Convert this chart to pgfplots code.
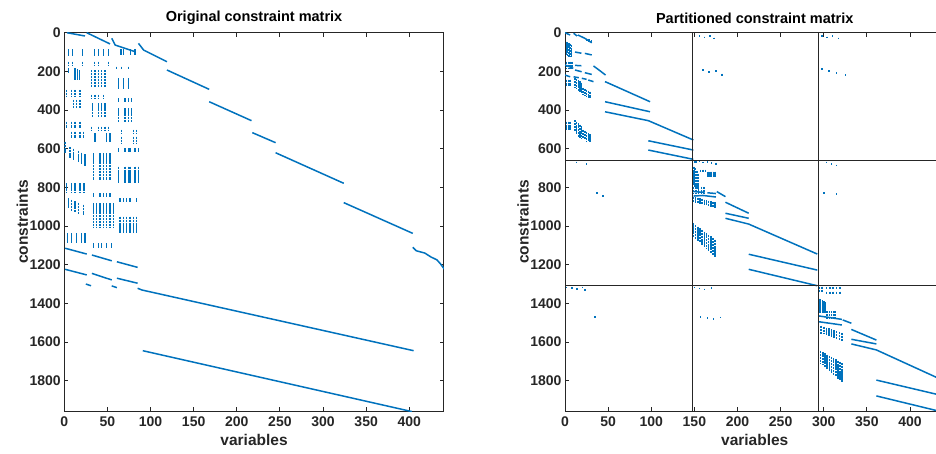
\documentclass[border=0pt]{standalone}
\usepackage{fontspec}
\setmainfont{Liberation Sans}
\usepackage{pgfplots}
\pgfplotsset{compat=1.18}
\definecolor{mblue}{RGB}{0,114,189}
\definecolor{axgray}{RGB}{38,38,38}

\pgfplotsset{
  spyax/.style={
    scale only axis, width=379.5pt, height=378.3pt,
    xmin=0, xmax=440, ymin=0, ymax=1957, y dir=reverse,
    xtick={0,50,...,400}, ytick={0,200,...,1800},
    tick align=inside, major tick length=4pt,
    axis line style={axgray, line width=0.9pt},
    tick style={axgray, line width=0.9pt},
    tick label style={font=\fontsize{14}{14}\selectfont\bfseries, text=axgray},
    xticklabel style={yshift=-2pt},
    every axis x label/.style={at={(axis description cs:0.5,-0.0767)}, anchor=center},
    every axis y label/.style={at={(axis description cs:-0.1105,0.5)}, rotate=90, anchor=center},
    label style={font=\fontsize{15.5}{15.5}\selectfont\bfseries, text=axgray},
    every axis title/.style={at={(axis description cs:0.5,1)}, anchor=center, yshift=14.7pt,
      font=\fontsize{14.5}{14.5}\selectfont\bfseries},
    /pgf/number format/assume math mode=true,
    /pgf/number format/set thousands separator={},
    xlabel={variables}, ylabel={constraints},
    unbounded coords=jump,
  },
  seg/.style={mblue, line width=1.5pt, no markers},
  bars/.style={mblue, only marks, mark=*, mark size=0pt,
    mark options={draw=none, fill=none},
    error bars/.cd, y dir=plus, y explicit, error mark=none,
    error bar style={mblue, line width=1.5pt, dash pattern=on 2.4pt off 0.5pt}},
  part/.style={black!85, line width=0.9pt, no markers},
}

\begin{document}
\begin{tikzpicture}
% ---------------- original matrix ----------------
\begin{axis}[spyax, at={(0pt,0pt)}, anchor=south west,
  title={Original constraint matrix}]
\addplot[seg] table {
x y
3 0
24 17
nan nan
26 0
53 58
nan nan
55 29
59 64
82 98
nan nan
86 55
92 90
119 150
nan nan
119 193
168 293
nan nan
168 357
217 455
nan nan
218 517
245 569
nan nan
245 621
324 779
nan nan
324 879
404 1038
nan nan
404 1110
408 1128
418 1140
425 1160
432 1175
436 1195
441 1225
nan nan
1 1115
26 1145
nan nan
32 1150
55 1180
nan nan
61 1185
85 1214
nan nan
1 1224
26 1253
nan nan
32 1245
55 1279
nan nan
61 1270
85 1296
nan nan
25 1300
31 1309
nan nan
55 1310
61 1319
nan nan
85 1322
90 1331
405 1645
nan nan
91 1645
403 1960
};
\addplot[bars] table[x=c, y=r, y error=h] {
c r h
4.7 86 35
9.7 86 35
21.3 86 35
34.8 86 35
39.5 86 35
45.3 86 35
51 86 35
65.7 86 30
68.4 86 30
77 86 30
82 86 30
4.7 150 17
9.7 150 17
21.3 150 17
34.8 150 17
39.5 150 17
51 150 17
60.6 176 10
66.5 176 10
74.2 176 10
4.7 185 25
12.4 185 60
15.1 190 55
17.4 195 50
31.7 193 86
35.6 193 86
39.5 193 86
43.3 193 86
47.2 193 86
62.6 236 60
68.4 236 60
74.2 236 60
2.7 296 35
8.5 296 35
12.4 296 35
18.2 296 35
31.7 322 18
35.6 322 18
39.5 322 18
45.3 322 18
62.6 340 17
70.4 340 17
74.2 340 17
78.1 340 17
10.5 348 43
14.3 348 43
18.2 348 43
32.9 365 69
39.5 365 69
43.3 365 69
47.2 365 69
62.6 391 69
70.4 391 69
74.2 391 69
78.1 391 69
2.7 460 35
8.5 460 35
12.4 460 35
18.2 460 35
31.7 486 17
39.5 486 17
43.3 486 17
47.2 486 17
51 486 17
66.5 503 18
80 503 18
83.9 503 18
8.5 512 34
12.4 512 34
18.2 512 34
22.1 512 34
35.6 521 43
49.1 521 43
53 521 43
66.5 538 34
80 538 34
83.9 538 34
0.8 564 56
6.6 590 60
10.5 600 60
16.3 610 60
20.1 620 60
24 630 60
33.7 624 138
41.4 624 138
45.3 624 138
49.1 624 138
53 624 138
62.6 598 17
70.4 598 17
74.2 598 17
76.2 598 17
82 598 17
85.8 598 17
62.6 693 86
70.4 693 86
74.2 693 86
76.2 693 86
82 693 86
85.8 693 86
2.7 779 52
8.5 779 52
12.4 779 52
18.2 779 52
22.8 779 52
33.7 831 17
41.4 831 17
45.3 831 17
49.1 831 17
53 831 17
64.6 857 17
68.4 857 17
72.3 857 17
76.2 857 17
83.9 857 17
4.7 857 50
8.5 865 55
12.4 872 60
16.3 880 60
22.1 890 55
33.7 883 121
37.6 883 121
41.4 883 121
45.3 883 121
49.1 883 121
53 883 121
56.8 883 121
64.6 952 86
68.4 952 86
72.3 952 86
76.2 952 86
80 952 86
84 952 86
3.5 1038 52
8.5 1038 52
14.3 1038 52
20.1 1038 52
24 1038 52
33.7 1090 25
39.5 1090 25
43.3 1090 25
49.1 1090 25
55 1090 25
};
\end{axis}

% ---------------- partitioned matrix ----------------
\begin{axis}[spyax, at={(500.7pt,0pt)}, anchor=south west,
  title={Partitioned constraint matrix}]
\addplot[seg] table {
x y
0 0
6 12
nan nan
10 3
14 17
nan nan
15 12
23 29
31 52
nan nan
0 167
9.6 184
nan nan
11.6 193
19.3 202
nan nan
23 207
31 216
nan nan
33 172
40 195
47 219
nan nan
0 219
6 228
nan nan
10 228
16 233
nan nan
19.5 236
25 241
nan nan
27 245
33 253
nan nan
46.4 253
98.6 357
nan nan
46.4 357
98.6 409
nan nan
46.4 409
96.6 455
148.8 555
nan nan
96.6 559
148.8 607
nan nan
96.6 607
148.8 655
nan nan
11.6 100
19 106
nan nan
23 107
31 115
nan nan
11.6 169
19 171
nan nan
176 822
181 835
186 848
nan nan
149 822
162 826
nan nan
165 828
175 832
nan nan
149 845
160 842
175 850
nan nan
186 877
213 934
nan nan
186 934
213 960
nan nan
186 960
213 990
292.5 1145
nan nan
213 1146
292.5 1228
nan nan
213 1224
292.5 1309
nan nan
294 1465
321 1483
nan nan
294 1495
321 1512
nan nan
322 1486
332 1503
nan nan
332 1535
361 1590
nan nan
332 1586
361 1610
nan nan
332 1610
361 1641
440 1802
nan nan
361 1797
440 1880
nan nan
361 1879
433 1957
};
\addplot[bars] table[x=c, y=r, y error=h] {
c r h
1.5 46 70
3 50 70
4.5 54 70
6 58 66
7.5 62 62
25 30 15
28 35 15
31 40 12
2 150 35
4 150 35
6 150 35
8 150 35
2 243 34
4 243 34
6 243 34
11.6 234 50
13.5 240 52
15.5 246 55
17.5 252 57
19.3 258 53
21 285 35
23 290 37
25 295 40
27 300 37
29 305 32
2 460 43
4 460 43
6 460 43
11.6 452 60
13.5 460 65
15.5 468 70
17.5 476 68
19.3 484 62
21 503 40
23 508 45
25 514 48
27 520 44
29 526 38
150 662 10
152 665 10
156 662 8
160 668 8
165 664 8
170 670 10
175 672 10
149.5 693 97
151 700 100
153 715 95
155 730 101
157 710 12
160 710 12
163 710 12
166 718 27
168 718 27
170 718 27
172 718 27
174 718 27
149 797 34
152 797 34
155 797 34
158 797 34
161 797 34
149 848 30
151.5 851 30
154 854 30
156.5 857 30
159 860 30
161.5 863 30
164 866 30
166.5 869 30
169 872 30
171.5 875 30
174 878 30
149 986 69
151.5 994.5 71
154 1003 73
156.5 1011.5 75
159 1020 77
161.5 1028.5 79
164 1037 81
166.5 1045.5 83
169 1054 85
171.5 1062.5 87
174 1071 89
295 1314 26
298 1314 26
303 1318 10
307 1318 10
311 1318 10
315 1318 10
319 1318 10
303 1340 12
307 1340 12
311 1340 12
315 1340 12
319 1340 12
294.5 1375 75
296.5 1380 70
298.5 1385 65
300.5 1390 60
302 1395 55
304 1440 40
306.5 1440 40
309 1440 40
311.5 1440 40
313 1440 40
294 1512 40
297 1516.5 40
300 1521 40
303 1525.5 40
306 1530 40
309 1534.5 40
312 1539 40
315 1543.5 40
318 1548 40
321 1552.5 40
294 1640 60
296.5 1646.3 63.5
299 1652.5 67
301.5 1658.8 70.5
304 1665 74
306.5 1671.3 77.5
309 1677.5 81
311.5 1683.8 84.5
314 1690 88
316.5 1696.3 91.5
319 1702.5 95
321 1707.5 97.8
156 12 8
162 20 8
168 14 8
173 26 8
160 190 10
167 200 10
175 195 10
182 212 10
298 12 8
304 20 8
310 14 8
317 26 8
298 183 10
306 195 10
315 205 10
325 215 10
13.5 667 8
25 676 8
37 826 8
44 840 8
303 667 8
309 675 8
315 684 8
300 826 8
315 831 8
2 1315 8
8 1318 8
14 1322 8
20 1315 8
23 1326 8
35 1466 8
150 1315 8
156 1320 8
162 1325 8
170 1318 8
157 1466 8
165 1472 8
172 1478 8
180 1470 8
};
\addplot[part] coordinates {(148,0) (148,1957)};
\addplot[part] coordinates {(294,0) (294,1957)};
\addplot[part] coordinates {(0,659) (440,659)};
\addplot[part] coordinates {(0,1310) (440,1310)};
\end{axis}
\pgfresetboundingbox
\useasboundingbox (-64.3pt,-42pt) rectangle (871.7pt,411pt);
\end{tikzpicture}
\end{document}
